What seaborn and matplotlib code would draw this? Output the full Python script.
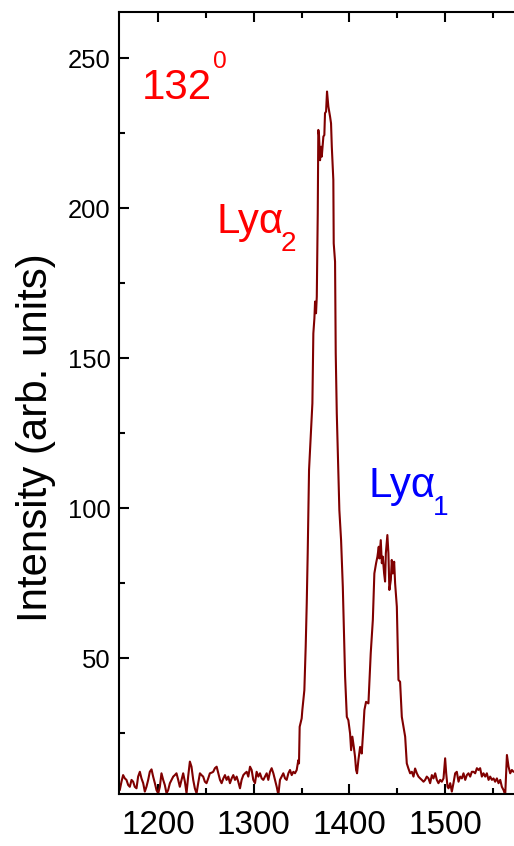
import numpy as np
import pandas as pd
import matplotlib
matplotlib.use("Agg")
import matplotlib.pyplot as plt
import matplotlib.font_manager as fm
from matplotlib.ticker import MultipleLocator
import seaborn as sns

# ---------------- data ----------------
energy = [
    1158.1, 1159.8, 1161.6, 1163.3, 1165.1, 1166.8, 1168.6, 1170.3, 1172.1, 1173.8,
    1175.5, 1177.3, 1179.0, 1180.8, 1182.5, 1184.3, 1186.0, 1187.7, 1189.5, 1191.2,
    1193.0, 1194.7, 1196.5, 1198.2, 1200.0, 1201.7, 1203.4, 1205.2, 1206.9, 1208.7,
    1210.4, 1212.2, 1213.9, 1215.7, 1217.4, 1219.1, 1220.9, 1222.6, 1224.4, 1226.1,
    1227.9, 1229.6, 1231.3, 1233.1, 1234.8, 1236.6, 1238.3, 1240.1, 1241.8, 1243.6,
    1245.3, 1247.0, 1248.8, 1250.5, 1252.3, 1254.0, 1255.8, 1257.5,
    1259.3, 1261.1, 1262.8, 1264.6, 1266.3, 1268.1, 1269.8, 1271.5, 1273.3, 1275.0,
    1276.8, 1278.5, 1280.3, 1282.0, 1283.7, 1285.5, 1287.2, 1289.0, 1290.7, 1292.5,
    1294.2, 1296.0, 1297.7, 1299.4, 1301.2, 1302.9, 1304.7, 1306.4, 1308.2, 1309.9,
    1311.7, 1313.4, 1315.1, 1316.9, 1318.6, 1320.4, 1322.1, 1323.9, 1325.6, 1327.3,
    1329.1, 1330.8, 1332.6, 1334.3, 1336.1, 1337.8, 1339.6, 1341.3, 1343.0, 1344.8,
    1346.5,
    1347.2, 1347.9, 1350.0, 1350.7, 1352.8, 1354.2, 1355.3, 1356.3, 1357.7, 1361.2,
    1362.2, 1363.3, 1364.0, 1365.0, 1365.8, 1366.8, 1367.4, 1368.1, 1369.2, 1370.3,
    1371.0, 1372.7, 1373.7, 1374.4, 1375.5, 1376.5, 1377.9, 1379.7, 1380.7, 1381.5,
    1383.1, 1383.5, 1384.9, 1385.6, 1386.7, 1388.4, 1389.4, 1391.2, 1393.0, 1394.3,
    1395.4, 1397.2, 1398.8, 1400.6, 1401.7, 1403.0, 1404.5, 1405.8, 1406.9, 1407.9,
    1409.3, 1411.1, 1412.8, 1414.5, 1415.6, 1417.3, 1419.8, 1420.8, 1422.2, 1424.4,
    1426.0, 1427.8, 1429.2, 1430.6, 1431.3, 1432.7, 1433.8, 1434.8, 1436.2, 1437.2,
    1438.0, 1439.6, 1440.7, 1441.7, 1443.2, 1444.2, 1445.3, 1446.7, 1447.7, 1449.5,
    1451.2, 1452.9, 1454.7, 1458.2, 1459.9, 1461.6, 1463.4, 1465.2, 1466.9, 1468.6,
    1470.4, 1472.1,
    1473.9, 1475.6, 1477.4, 1479.1, 1480.8, 1482.6, 1484.3, 1486.1, 1487.8, 1489.6,
    1491.3, 1493.0, 1494.8, 1496.5, 1498.3, 1500.0, 1501.1, 1502.5, 1503.5, 1505.3,
    1507.0, 1508.7, 1510.5, 1512.2, 1514.0, 1515.7, 1517.5, 1519.2, 1521.0, 1522.7,
    1524.4, 1526.2, 1527.9, 1529.7, 1531.4, 1533.2, 1534.9, 1536.6, 1538.4, 1540.1,
    1541.9, 1543.6, 1545.4, 1547.1, 1548.9, 1550.6, 1552.3, 1554.1, 1555.8, 1557.6,
    1559.3, 1561.1, 1562.8, 1564.6, 1566.3, 1568.0, 1569.8, 1571.5,
]
intensity = [
    10.6, 6.1, 8.9, 11.1, 10.0, 9.5, 7.8, 7.2, 9.5, 8.9,
    7.2, 6.7, 10.6, 12.2, 10.0, 8.4, 5.6, 7.2, 9.5, 12.2,
    13.0, 10.6, 8.4, 6.1, 5.0, 7.2, 11.7, 9.5, 7.8, 5.0,
    6.1, 8.4, 9.5, 10.6, 11.1, 11.7, 9.5, 7.2, 9.5, 11.7,
    8.9, 5.0, 10.6, 15.6, 13.9, 9.5, 6.7, 5.0, 8.4, 11.7,
    11.1, 10.6, 8.9, 8.4, 10.0, 11.7, 11.9, 12.2,
    13.4, 13.9, 11.7, 9.5, 8.4, 10.0, 11.1, 9.5, 10.6, 8.4,
    10.0, 11.1, 9.5, 10.6, 8.9, 6.7, 9.5, 11.1, 11.7, 12.2,
    10.6, 13.9, 12.8, 9.5, 8.4, 12.2, 10.6, 11.7, 10.0, 9.5,
    10.6, 11.7, 9.5, 12.2, 13.4, 11.7, 9.5, 7.2, 4.5, 9.5,
    10.6, 11.7, 10.0, 9.5, 11.7, 12.8, 11.1, 12.2, 11.7, 12.8,
    16.1,
    15.0, 27.2, 30.0, 32.8, 39.4, 53.9, 68.4, 85.0, 112.8, 135.0,
    158.3, 163.3, 168.9, 165.0, 170.5, 198.3, 226.1, 224.5, 216.0, 220.5,
    217.2, 223.9, 224.4, 231.7, 232.2, 238.9, 233.9, 230.5, 228.3, 220.5,
    209.4, 188.3, 182.2, 151.7, 131.7, 111.0, 99.4, 89.4, 73.9, 57.2,
    43.9, 30.5, 29.4, 25.0, 19.4, 23.9, 20.5, 17.2, 12.8, 11.7,
    16.1, 20.5, 18.3, 26.7, 32.8, 35.5, 35.0, 41.7, 51.7, 62.8,
    78.3, 81.7, 83.9, 87.2, 83.3, 89.4, 81.7, 83.9, 78.3, 75.6,
    85.0, 91.1, 85.0, 72.8, 76.1, 82.8, 78.3, 82.2, 75.0, 67.2,
    42.8, 42.2, 30.5, 23.9, 15.0, 13.3, 11.7, 12.2, 10.6, 13.3,
    11.7, 10.6,
    10.0, 9.5, 8.9, 9.5, 10.6, 10.0, 8.4, 11.1, 10.0, 11.7,
    9.5, 8.4, 9.5, 8.9, 10.0, 16.7, 11.7, 7.2, 6.7, 8.4,
    5.6, 8.4, 11.7, 12.2, 8.9, 10.6, 10.0, 11.7, 9.5, 11.1,
    11.7, 10.6, 12.2, 12.2, 11.7, 13.4, 12.8, 13.4, 10.6, 11.7,
    10.6, 11.7, 9.5, 10.6, 9.5, 10.0, 8.9, 10.0, 8.4, 9.5,
    7.2, 6.1, 4.5, 17.8, 13.9, 11.7, 12.8, 12.2,
]
x_ticks = [1200, 1300, 1400, 1500]
y_ticks = [50, 100, 150, 200, 250]
x_label = ""
y_label = "Intensity (arb. units)"
angle_text = "132"
angle_sup = "0"
line2_text, line2_sub = "Lyα", "2"
line1_text, line1_sub = "Lyα", "1"

df = pd.DataFrame({"energy": energy, "intensity": intensity})

# ---------------- style ----------------
sns.set_theme(style="ticks")
names = {f.name for f in fm.fontManager.ttflist}
if "Liberation Sans Narrow" in names:
    FAM = ["Liberation Sans Narrow", "Liberation Sans", "DejaVu Sans"]
    k = 1.0
else:
    FAM = ["Liberation Sans", "DejaVu Sans"]
    k = 0.84
plt.rcParams["font.family"] = FAM
plt.rcParams["text.color"] = "black"
plt.rcParams["axes.labelcolor"] = "black"
plt.rcParams["xtick.color"] = "black"
plt.rcParams["ytick.color"] = "black"

LINE = "#800000"
W, H, DPI = 514, 846, 100
fig = plt.figure(figsize=(W / DPI, H / DPI), dpi=DPI)
left, right, top, bottom = 119, 514, 12.3, 794.3
ax = fig.add_axes([left / W, 1 - bottom / H, (right - left) / W, (bottom - top) / H])

sns.lineplot(data=df, x="energy", y="intensity", ax=ax, color=LINE,
             linewidth=1.5, estimator=None, sort=False)

ax.set_xlim(1159, 1572)
ax.set_ylim(4.7, 265.3)
ax.set_xticks(x_ticks)
ax.set_yticks(y_ticks)
ax.xaxis.set_minor_locator(MultipleLocator(50))
ax.yaxis.set_minor_locator(MultipleLocator(25))

for s in ["left", "bottom", "top"]:
    ax.spines[s].set_linewidth(1.5)
    ax.spines[s].set_color("black")
ax.spines["right"].set_visible(False)

ax.tick_params(which="both", direction="in", top=True, right=False,
               color="black", width=1.5, labelcolor="black")
ax.tick_params(which="major", length=7)
ax.tick_params(which="minor", length=4)
ax.tick_params(axis="x", which="major", labelsize=28.5 * k, pad=11)
ax.tick_params(axis="y", which="major", labelsize=22 * k, pad=6)

ax.set_xlabel(x_label)
ax.set_ylabel(y_label, fontsize=36 * k, va="center", color="black")
ax.yaxis.set_label_coords((36 - left) / (right - left), (bottom - 438) / (bottom - top))

# ---------------- annotations ----------------
def px(xp, yp):
    return (xp / W, 1 - yp / H)

t0 = fig.text(*px(142, 99), angle_text, color="red", fontsize=36 * k,
              ha="left", va="baseline")
ax.annotate(angle_sup, xy=(1, H - 68), xycoords=(t0, "figure pixels"),
            xytext=(1, 0), textcoords="offset pixels", color="red",
            fontsize=21 * k, ha="left", va="baseline")

t2 = fig.text(*px(216, 233), line2_text, color="red", fontsize=36 * k,
              ha="left", va="baseline")
ax.annotate(line2_sub, xy=(1, H - 251), xycoords=(t2, "figure pixels"),
            xytext=(-2, 0), textcoords="offset pixels", color="red",
            fontsize=24 * k, ha="left", va="baseline")

t1 = fig.text(*px(368, 497), line1_text, color="blue", fontsize=36 * k,
              ha="left", va="baseline")
ax.annotate(line1_sub, xy=(1, H - 515), xycoords=(t1, "figure pixels"),
            xytext=(-2, 0), textcoords="offset pixels", color="blue",
            fontsize=24 * k, ha="left", va="baseline")

fig.savefig("out.png", dpi=DPI)
